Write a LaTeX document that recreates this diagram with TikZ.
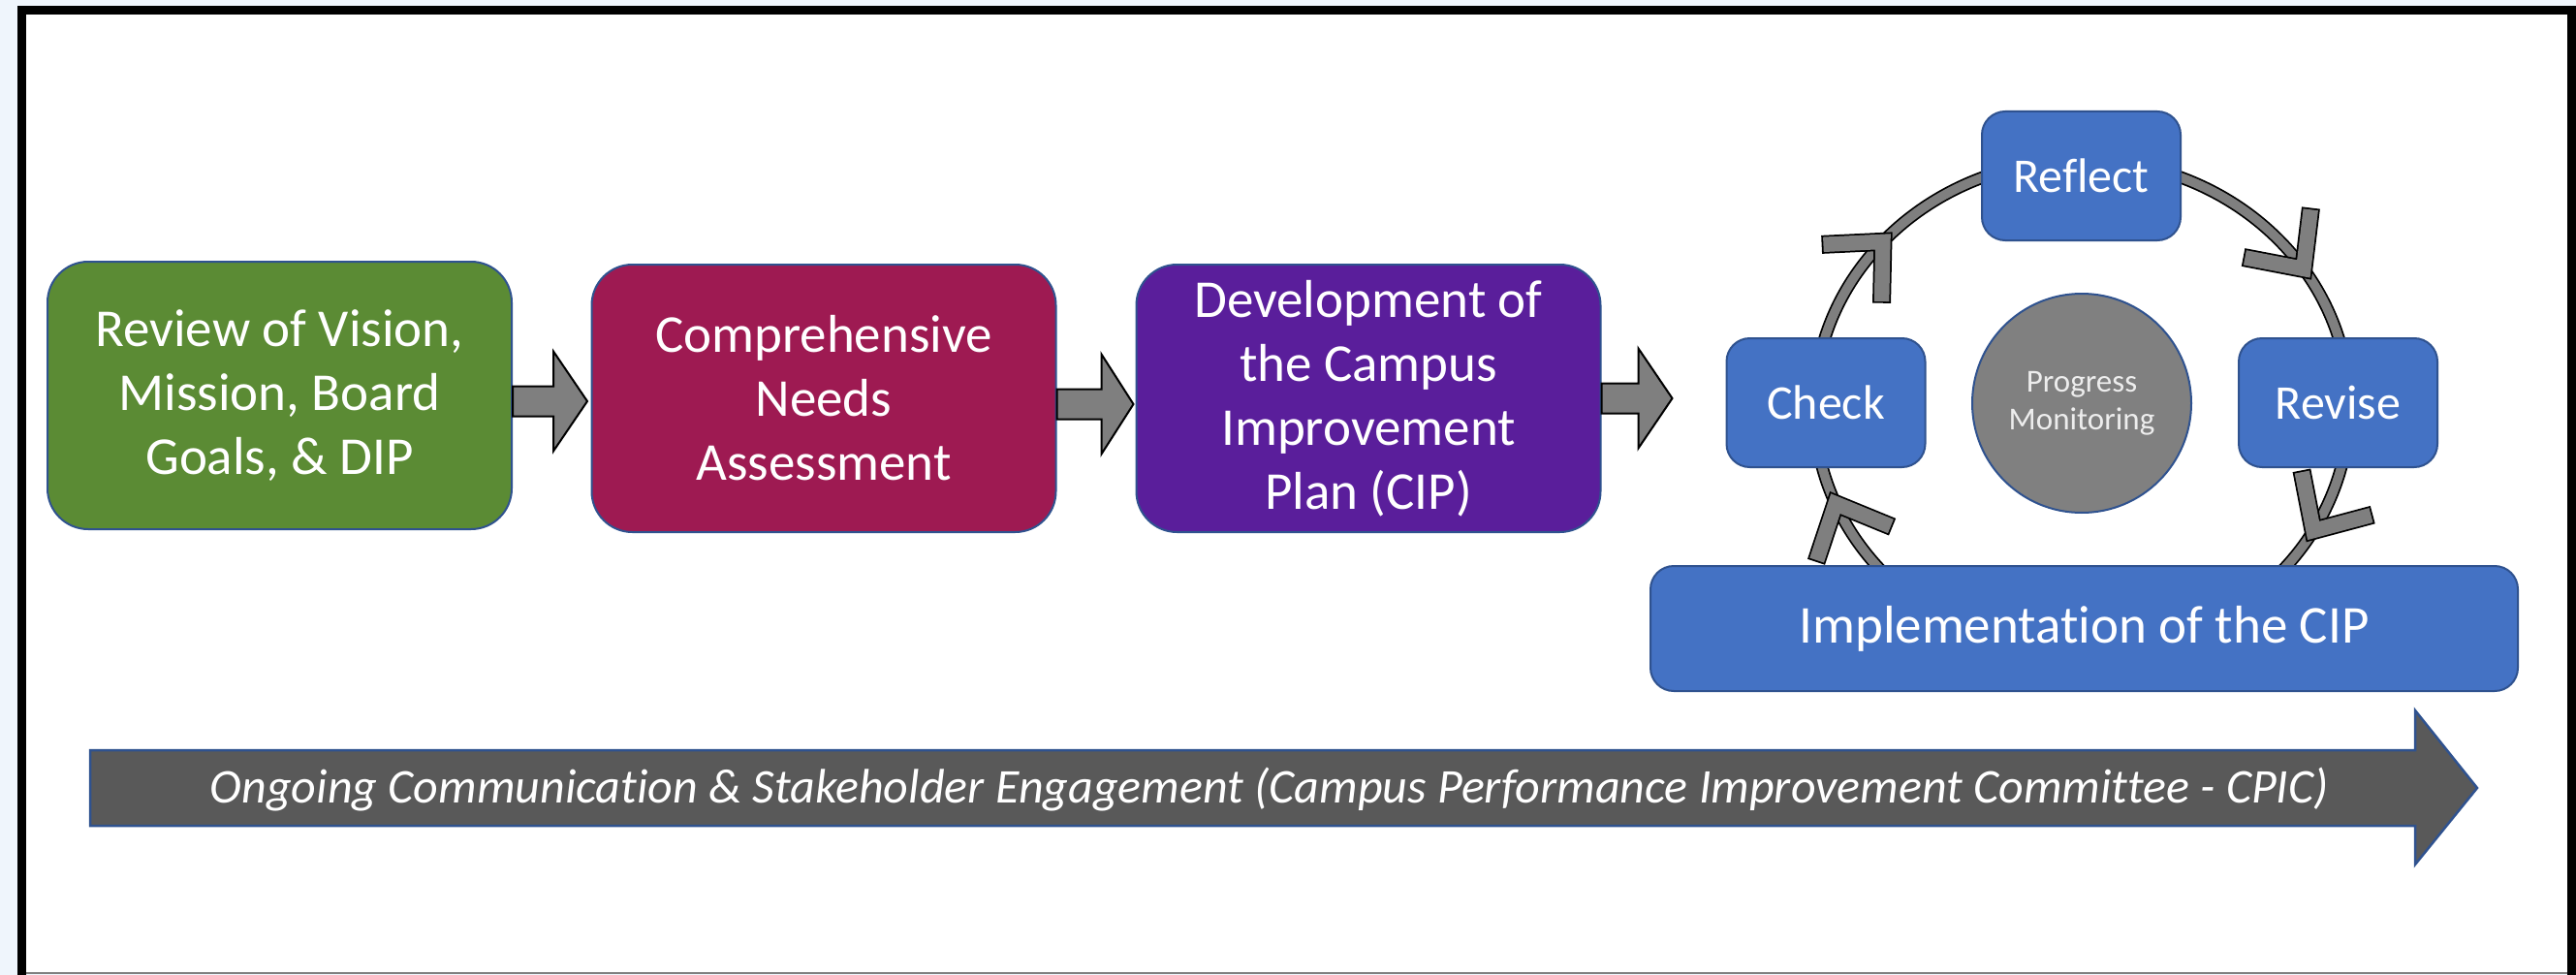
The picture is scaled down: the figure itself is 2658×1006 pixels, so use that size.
\documentclass[tikz,border=0pt]{standalone}
\usepackage{fontspec}
\setmainfont{Carlito}[Ligatures=NoCommon]
\usetikzlibrary{calc}
\definecolor{bgblue}{HTML}{EFF5FC}
\definecolor{gmain}{HTML}{5B8B34}
\definecolor{glight}{HTML}{8FC46B}
\definecolor{gdark}{HTML}{46692A}
\definecolor{mmain}{HTML}{9E1A52}
\definecolor{mlight}{HTML}{D8538A}
\definecolor{mdark}{HTML}{7A1340}
\definecolor{pmain}{HTML}{5A1E9B}
\definecolor{plight}{HTML}{8F58D6}
\definecolor{pdark}{HTML}{451678}
\definecolor{bmain}{HTML}{4472C4}
\definecolor{blight}{HTML}{82AAEE}
\definecolor{bdark}{HTML}{30589E}
\definecolor{outl}{HTML}{2F528F}
\definecolor{arrgray}{HTML}{7F7F7F}
\definecolor{bandgray}{HTML}{595959}
\definecolor{cmain}{HTML}{808080}
\definecolor{clight}{HTML}{B4B4B4}
\definecolor{cdark}{HTML}{6A6A6A}
\definecolor{pmtext}{HTML}{EDEDED}

\pgfdeclareverticalshading{bevelg}{100bp}{color(0bp)=(gdark); color(4bp)=(gmain); color(95bp)=(gmain); color(100bp)=(glight)}
\pgfdeclareverticalshading{bevelm}{100bp}{color(0bp)=(mdark); color(4bp)=(mmain); color(95bp)=(mmain); color(100bp)=(mlight)}
\pgfdeclareverticalshading{bevelp}{100bp}{color(0bp)=(pdark); color(4bp)=(pmain); color(95bp)=(pmain); color(100bp)=(plight)}
\pgfdeclareverticalshading{bevelb}{100bp}{color(0bp)=(bdark); color(7bp)=(bmain); color(91bp)=(bmain); color(100bp)=(blight)}
\pgfdeclareverticalshading{bevelc}{100bp}{color(0bp)=(cdark); color(8bp)=(cmain); color(88bp)=(cmain); color(100bp)=(clight)}

\tikzset{
  bigbox/.style={rounded corners=42pt, draw=outl, line width=2pt,
    minimum width=479pt, minimum height=276pt, align=center, text=white,
    font=\fontsize{55}{66}\selectfont, inner sep=0pt},
  smallbox/.style={rounded corners=24pt, draw=outl, line width=2pt,
    shade, shading=bevelb, minimum width=205pt, minimum height=133pt,
    align=center, text=white, font=\fontsize{50}{60}\selectfont, inner sep=0pt},
  barrow/.style={fill=arrgray, draw=black, line width=2pt, line join=miter},
  chevout/.style={draw=black, line width=19pt, line join=miter, miter limit=20,
    shorten <=-1.8pt, shorten >=-1.8pt},
  chevin/.style={draw=arrgray, line width=15.5pt, line join=miter, miter limit=20},
}

\newcommand{\blockarr}[3]{%
  \draw[barrow] ($#1+(0,-15.5)$) -- ++(#2,0) -- ++(0,-36) -- ++(#3,51.5)
     -- ++(-#3,51.5) -- ++(0,-36) -- ++(-#2,0) -- cycle;}

\newcommand{\mychev}[1]{%
  \pgfmathsetmacro{\cvx}{2148+276*cos(#1)}%
  \pgfmathsetmacro{\cvy}{420+255*sin(#1)}%
  \pgfmathsetmacro{\ctx}{-276*sin(#1)}%
  \pgfmathsetmacro{\cty}{255*cos(#1)}%
  \pgfmathsetmacro{\ctn}{veclen(\ctx,\cty)}%
  \pgfmathsetmacro{\cfx}{\ctx/\ctn}%
  \pgfmathsetmacro{\cfy}{\cty/\ctn}%
  \pgfmathsetmacro{\cax}{\cvx-45*(\cfx)+42*(\cfy)}%
  \pgfmathsetmacro{\cay}{\cvy-45*(\cfy)-42*(\cfx)}%
  \pgfmathsetmacro{\cbx}{\cvx-45*(\cfx)-42*(\cfy)}%
  \pgfmathsetmacro{\cby}{\cvy-45*(\cfy)+42*(\cfx)}%
  \draw[chevout] (\cax,\cay) -- (\cvx,\cvy) -- (\cbx,\cby);
  \draw[chevin] (\cax,\cay) -- (\cvx,\cvy) -- (\cbx,\cby);}

\begin{document}
\begin{tikzpicture}[x=1pt,y=-1pt]
\useasboundingbox (0,0) rectangle (2658,1006);
% frame
\fill[bgblue] (0,0) rectangle (2658,1006);
\fill[white] (22,10.5) rectangle (2653,1004);
\draw[gray, line width=2pt] (22,1004) -- (2653,1004);
\draw[black, line width=9pt] (22,1006) -- (22,10.5) -- (2653,10.5) -- (2653,1006);

% main process boxes
\node[bigbox, shade, shading=bevelg] (g) at (288.5,408) {Review of Vision,\\Mission, Board\\Goals, \& DIP};
\node[bigbox, shade, shading=bevelm] (m) at (850,411) {Comprehensive\\Needs\\Assessment};
\node[bigbox, shade, shading=bevelp] (p) at (1412,411) {Development of\\the Campus\\Improvement\\Plan (CIP)};

\blockarr{(g.east)+(0,6)}{42}{35}
\blockarr{(m.east)+(0,6)}{46}{33}
\blockarr{(p.east)+(0,0)}{38}{35}

% cycle ring
\draw[black, line width=13pt] (2148,420) ellipse [x radius=276pt, y radius=255pt];
\draw[arrgray, line width=9.5pt] (2148,420) ellipse [x radius=276pt, y radius=255pt];
\mychev{222}
\mychev{326}
\mychev{30}
\mychev{157}

\node[smallbox] (reflect) at (2147.5,181.5) {Reflect};
\node[smallbox] (check) at (1884,415.5) {Check};
\node[smallbox] (revise) at (2412.5,415.5) {Revise};
\node[circle, draw=outl, line width=2pt, shade, shading=bevelc, minimum size=226pt,
  inner sep=0pt, align=center, text=pmtext, font=\fontsize{33}{39}\selectfont] (pm) at (2148,416) {Progress\\Monitoring};
\node[smallbox, minimum width=895pt, minimum height=129pt, font=\fontsize{55}{66}\selectfont] (impl) at (2150.5,648.5) {Implementation of the CIP};

% bottom arrow
\draw[fill=bandgray, draw=outl, line width=2.5pt, line join=miter] (93,774) -- (2492,774) -- (2492,733) -- (2556,813) -- (2492,892) -- (2492,852) -- (93,852) -- cycle;
\node[text=white, font=\fontsize{50}{60}\selectfont\itshape] (ong) at (1310,815) {Ongoing Communication \& Stakeholder Engagement (Campus Performance Improvement Committee - CPIC)};
\end{tikzpicture}
\end{document}
